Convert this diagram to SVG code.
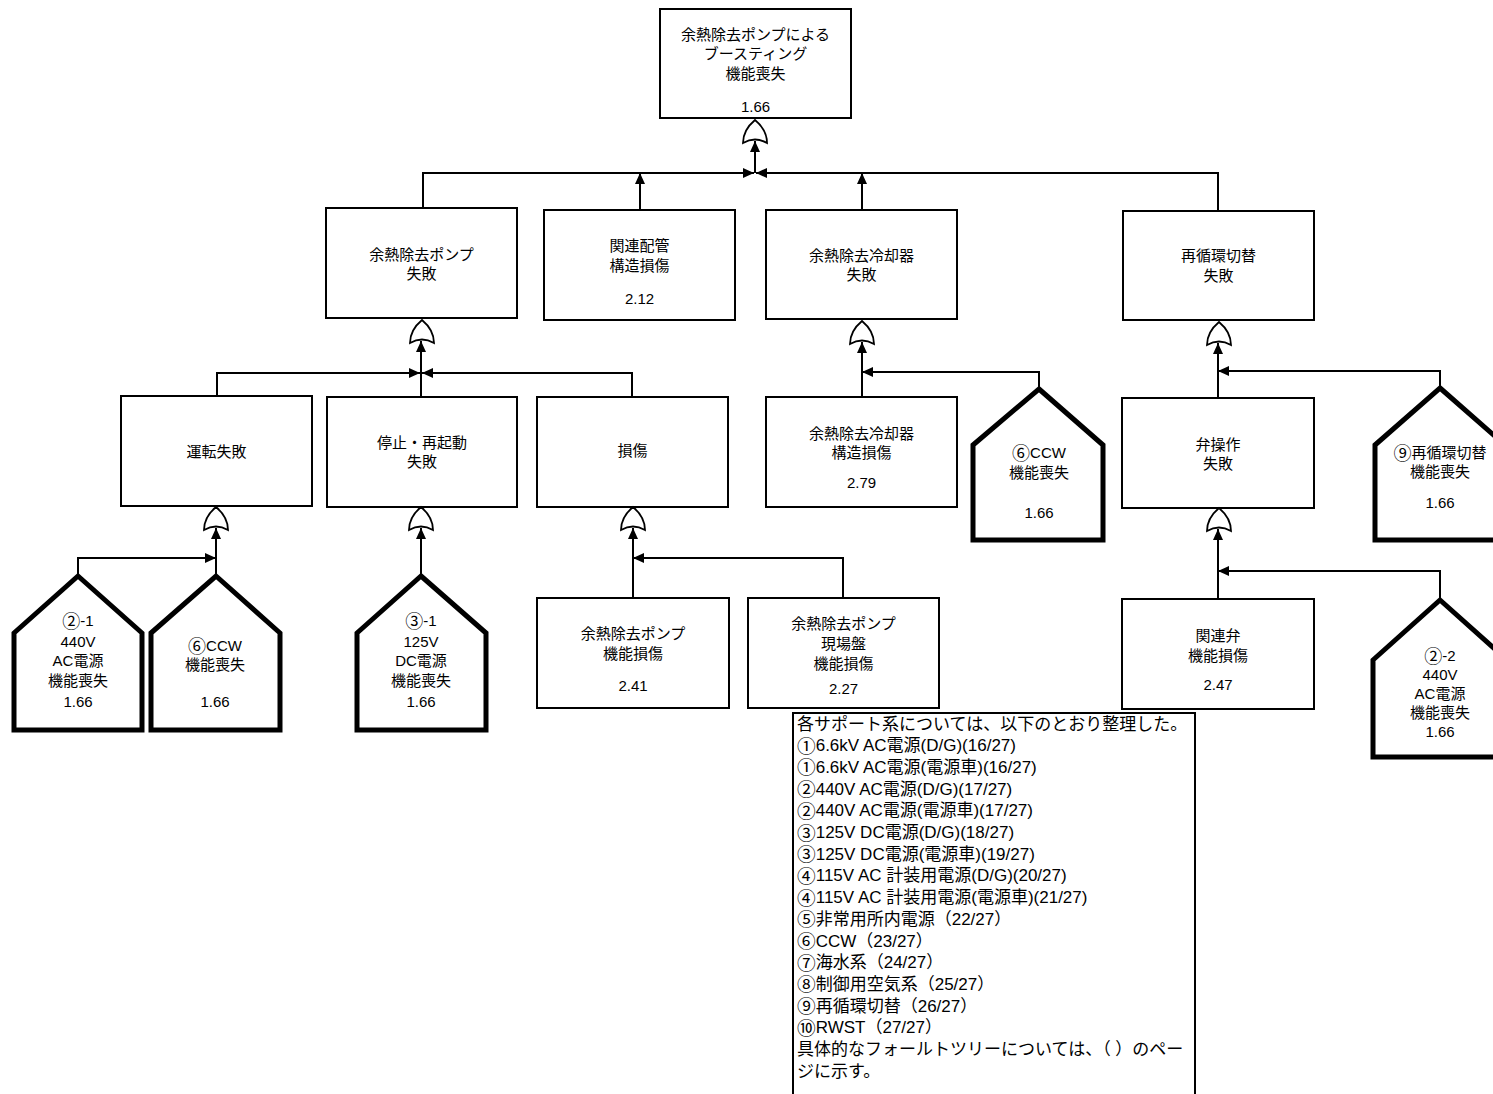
<svg xmlns="http://www.w3.org/2000/svg" width="1493" height="1094" viewBox="0 0 1493 1094">
<style>
.box{fill:#fff;stroke:#000;stroke-width:2}
.house{fill:#fff;stroke:#000;stroke-width:5;stroke-linejoin:miter}
.gate{fill:#fff;stroke:#000;stroke-width:1.8}
.arr{fill:none;stroke:#000;stroke-width:2;marker-end:url(#ah)}
text{font-family:"Liberation Sans","Noto Sans CJK JP",sans-serif;fill:#000}
.c{font-family:"Noto Sans CJK JP",sans-serif;font-size:1.2em}
.lc{font-size:1.1em}
.t{font-size:15px;text-anchor:middle;dominant-baseline:central}
.lg{font-size:17px;dominant-baseline:central}
</style>
<defs>
<marker id="ah" markerUnits="userSpaceOnUse" markerWidth="11" markerHeight="10" refX="11" refY="5" orient="auto">
<path d="M0,0 L11,5 L0,10 Z" fill="#000"/>
</marker>
<path id="or" d="M-12,23 C-12,13 -6,5 0,0 C6,5 12,13 12,23 Q0,16 -12,23 Z"/>
</defs>
<rect width="1493" height="1094" fill="#fff"/>

<g id="connectors">
<path class="arr" d="M755,173 L755,141"/>
<path class="arr" d="M423,208 L423,173 L754,173"/>
<path class="arr" d="M1218,211 L1218,173 L756,173"/>
<path class="arr" d="M640,210 L640,173"/>
<path class="arr" d="M862,210 L862,173"/>

<path class="arr" d="M421,397 L421,341"/>
<path class="arr" d="M217,397 L217,373 L420,373"/>
<path class="arr" d="M632,397 L632,373 L422,373"/>

<path class="arr" d="M862,397 L862,342"/>
<path class="arr" d="M1039,389 L1039,372 L862,372"/>

<path class="arr" d="M1218,398 L1218,343"/>
<path class="arr" d="M1440,388 L1440,371 L1218,371"/>

<path class="arr" d="M216,576 L216,528"/>
<path class="arr" d="M78,576 L78,558 L216,558"/>

<path class="arr" d="M421,576 L421,528"/>

<path class="arr" d="M633,598 L633,528"/>
<path class="arr" d="M843,598 L843,558 L633,558"/>

<path class="arr" d="M1218,599 L1218,529"/>
<path class="arr" d="M1440,600 L1440,571 L1218,571"/>
</g>

<g id="top">
<rect class="box" x="660" y="9" width="191" height="109"/>
<text class="t" x="755.5" y="34">余熱除去ポンプによる</text>
<text class="t" x="755.5" y="53">ブースティング</text>
<text class="t" x="755.5" y="73">機能喪失</text>
<text class="t" x="755.5" y="106">1.66</text>
<use href="#or" class="gate" x="755" y="120"/>
</g>

<g id="pump-fail">
<rect class="box" x="326" y="208" width="191" height="110"/>
<text class="t" x="421.5" y="254">余熱除去ポンプ</text>
<text class="t" x="421.5" y="273">失敗</text>
<use href="#or" class="gate" x="422" y="320"/>
</g>

<g id="piping">
<rect class="box" x="544" y="210" width="191" height="110"/>
<text class="t" x="639.5" y="245">関連配管</text>
<text class="t" x="639.5" y="265">構造損傷</text>
<text class="t" x="639.5" y="298">2.12</text>
</g>

<g id="cooler-fail">
<rect class="box" x="766" y="210" width="191" height="109"/>
<text class="t" x="861.5" y="255">余熱除去冷却器</text>
<text class="t" x="861.5" y="274">失敗</text>
<use href="#or" class="gate" x="862" y="321"/>
</g>

<g id="recirc-fail">
<rect class="box" x="1123" y="211" width="191" height="109"/>
<text class="t" x="1218.5" y="255">再循環切替</text>
<text class="t" x="1218.5" y="275">失敗</text>
<use href="#or" class="gate" x="1219" y="322"/>
</g>

<g id="run-fail">
<rect class="box" x="121" y="396" width="191" height="110"/>
<text class="t" x="216.5" y="451">運転失敗</text>
<use href="#or" class="gate" x="216" y="507"/>
</g>

<g id="restart-fail">
<rect class="box" x="327" y="397" width="190" height="110"/>
<text class="t" x="422" y="442">停止・再起動</text>
<text class="t" x="422" y="461">失敗</text>
<use href="#or" class="gate" x="421" y="507"/>
</g>

<g id="damage">
<rect class="box" x="537" y="397" width="191" height="110"/>
<text class="t" x="632.5" y="450">損傷</text>
<use href="#or" class="gate" x="633" y="507"/>
</g>

<g id="cooler-struct">
<rect class="box" x="766" y="397" width="191" height="110"/>
<text class="t" x="861.5" y="433">余熱除去冷却器</text>
<text class="t" x="861.5" y="452">構造損傷</text>
<text class="t" x="861.5" y="482">2.79</text>
</g>

<g id="valve-op">
<rect class="box" x="1122" y="398" width="192" height="110"/>
<text class="t" x="1218" y="444">弁操作</text>
<text class="t" x="1218" y="463">失敗</text>
<use href="#or" class="gate" x="1219" y="508"/>
</g>

<g id="pump-dmg">
<rect class="box" x="537" y="598" width="192" height="110"/>
<text class="t" x="633" y="633">余熱除去ポンプ</text>
<text class="t" x="633" y="653">機能損傷</text>
<text class="t" x="633" y="685">2.41</text>
</g>

<g id="panel-dmg">
<rect class="box" x="748" y="598" width="191" height="110"/>
<text class="t" x="843.5" y="623">余熱除去ポンプ</text>
<text class="t" x="843.5" y="643">現場盤</text>
<text class="t" x="843.5" y="663">機能損傷</text>
<text class="t" x="843.5" y="688">2.27</text>
</g>

<g id="valve-dmg">
<rect class="box" x="1122" y="599" width="192" height="110"/>
<text class="t" x="1218" y="635">関連弁</text>
<text class="t" x="1218" y="655">機能損傷</text>
<text class="t" x="1218" y="684">2.47</text>
</g>

<g id="h-ac440-1">
<polygon class="house" points="78,576 142,633 142,730 14,730 14,633"/>
<text class="t" x="78" y="620"><tspan class="c">②</tspan>-1</text>
<text class="t" x="78" y="641">440V</text>
<text class="t" x="78" y="660">AC電源</text>
<text class="t" x="78" y="680">機能喪失</text>
<text class="t" x="78" y="701">1.66</text>
</g>

<g id="h-ccw-1">
<polygon class="house" points="216,576 280,633 280,730 151,730 151,633"/>
<text class="t" x="215" y="645"><tspan class="c">⑥</tspan>CCW</text>
<text class="t" x="215" y="664">機能喪失</text>
<text class="t" x="215" y="701">1.66</text>
</g>

<g id="h-dc125">
<polygon class="house" points="421,576 486,633 486,730 357,730 357,633"/>
<text class="t" x="421" y="620"><tspan class="c">③</tspan>-1</text>
<text class="t" x="421" y="641">125V</text>
<text class="t" x="421" y="660">DC電源</text>
<text class="t" x="421" y="680">機能喪失</text>
<text class="t" x="421" y="701">1.66</text>
</g>

<g id="h-ccw-2">
<polygon class="house" points="1039,389 1103,445 1103,540 973,540 973,445"/>
<text class="t" x="1039" y="452"><tspan class="c">⑥</tspan>CCW</text>
<text class="t" x="1039" y="472">機能喪失</text>
<text class="t" x="1039" y="512">1.66</text>
</g>

<g id="h-recirc">
<polygon class="house" points="1440,388 1505,445 1505,540 1375,540 1375,445"/>
<text class="t" x="1440" y="452"><tspan class="c">⑨</tspan>再循環切替</text>
<text class="t" x="1440" y="471">機能喪失</text>
<text class="t" x="1440" y="502">1.66</text>
</g>

<g id="h-ac440-2">
<polygon class="house" points="1440,600 1507,660 1507,757 1373,757 1373,660"/>
<text class="t" x="1440" y="655"><tspan class="c">②</tspan>-2</text>
<text class="t" x="1440" y="674">440V</text>
<text class="t" x="1440" y="693">AC電源</text>
<text class="t" x="1440" y="712">機能喪失</text>
<text class="t" x="1440" y="731">1.66</text>
</g>

<g id="legend">
<rect class="box" x="793" y="713" width="402" height="400"/>
<text class="lg" x="797" y="724">各サポート系については、以下のとおり整理した。</text>
<text class="lg" x="797" y="745.7"><tspan class="lc">①</tspan>6.6kV AC電源(D/G)(16/27)</text>
<text class="lg" x="797" y="767.4"><tspan class="lc">①</tspan>6.6kV AC電源(電源車)(16/27)</text>
<text class="lg" x="797" y="789.1"><tspan class="lc">②</tspan>440V AC電源(D/G)(17/27)</text>
<text class="lg" x="797" y="810.8"><tspan class="lc">②</tspan>440V AC電源(電源車)(17/27)</text>
<text class="lg" x="797" y="832.5"><tspan class="lc">③</tspan>125V DC電源(D/G)(18/27)</text>
<text class="lg" x="797" y="854.2"><tspan class="lc">③</tspan>125V DC電源(電源車)(19/27)</text>
<text class="lg" x="797" y="875.9"><tspan class="lc">④</tspan>115V AC 計装用電源(D/G)(20/27)</text>
<text class="lg" x="797" y="897.6"><tspan class="lc">④</tspan>115V AC 計装用電源(電源車)(21/27)</text>
<text class="lg" x="797" y="919.3"><tspan class="lc">⑤</tspan>非常用所内電源（22/27）</text>
<text class="lg" x="797" y="941"><tspan class="lc">⑥</tspan>CCW（23/27）</text>
<text class="lg" x="797" y="962.7"><tspan class="lc">⑦</tspan>海水系（24/27）</text>
<text class="lg" x="797" y="984.4"><tspan class="lc">⑧</tspan>制御用空気系（25/27）</text>
<text class="lg" x="797" y="1006.1"><tspan class="lc">⑨</tspan>再循環切替（26/27）</text>
<text class="lg" x="797" y="1027.8"><tspan class="lc">⑩</tspan>RWST（27/27）</text>
<text class="lg" x="797" y="1049.5">具体的なフォールトツリーについては、（ ）のペー</text>
<text class="lg" x="797" y="1071.2">ジに示す。</text>
</g>
</svg>
